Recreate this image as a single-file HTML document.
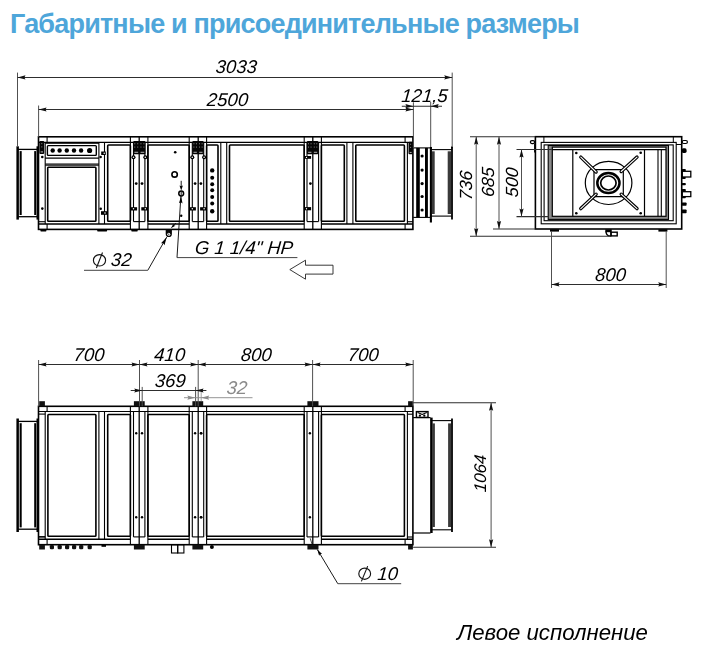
<!DOCTYPE html>
<html><head><meta charset="utf-8"><style>
html,body{margin:0;padding:0;background:#fff;}
body{width:707px;height:668px;overflow:hidden;position:relative;font-family:"Liberation Sans",sans-serif;}
h1{position:absolute;left:10px;top:9px;margin:0;font:bold 27px "Liberation Sans",sans-serif;color:#4ea6da;letter-spacing:-0.8px;white-space:nowrap;}
svg{position:absolute;left:0;top:0;filter:grayscale(1);}
svg text{font-family:"Liberation Sans",sans-serif;}
.cap{position:absolute;left:457px;top:620.3px;font:italic 22.2px "Liberation Sans",sans-serif;color:#000;white-space:nowrap;filter:grayscale(1);}
</style></head><body>
<h1>Габаритные и присоединительные размеры</h1>
<svg width="707" height="668" viewBox="0 0 707 668">
<line x1="38.50" y1="142.30" x2="412.90" y2="142.30" stroke="#000" stroke-width="1.2" stroke-linecap="butt"/>
<line x1="38.50" y1="224.00" x2="130.40" y2="224.00" stroke="#000" stroke-width="1.5" stroke-linecap="butt"/>
<line x1="147.90" y1="224.00" x2="189.20" y2="224.00" stroke="#000" stroke-width="1.5" stroke-linecap="butt"/>
<line x1="206.60" y1="224.00" x2="304.20" y2="224.00" stroke="#000" stroke-width="1.5" stroke-linecap="butt"/>
<line x1="321.40" y1="224.00" x2="412.90" y2="224.00" stroke="#000" stroke-width="1.5" stroke-linecap="butt"/>
<line x1="45.20" y1="142.30" x2="45.20" y2="224.00" stroke="#000" stroke-width="1.1" stroke-linecap="butt"/>
<line x1="98.90" y1="142.30" x2="98.90" y2="224.00" stroke="#000" stroke-width="1.1" stroke-linecap="butt"/>
<line x1="104.50" y1="142.30" x2="104.50" y2="224.00" stroke="#000" stroke-width="1.1" stroke-linecap="butt"/>
<line x1="220.80" y1="142.30" x2="220.80" y2="224.00" stroke="#000" stroke-width="1.1" stroke-linecap="butt"/>
<line x1="226.70" y1="142.30" x2="226.70" y2="224.00" stroke="#000" stroke-width="1.1" stroke-linecap="butt"/>
<line x1="346.90" y1="142.30" x2="346.90" y2="224.00" stroke="#000" stroke-width="1.1" stroke-linecap="butt"/>
<line x1="352.90" y1="142.30" x2="352.90" y2="224.00" stroke="#000" stroke-width="1.1" stroke-linecap="butt"/>
<line x1="407.40" y1="142.30" x2="407.40" y2="224.00" stroke="#000" stroke-width="1.1" stroke-linecap="butt"/>
<line x1="130.40" y1="136.80" x2="130.40" y2="229.40" stroke="#000" stroke-width="1.1" stroke-linecap="butt"/>
<line x1="133.50" y1="142.30" x2="133.50" y2="221.60" stroke="#000" stroke-width="1.1" stroke-linecap="butt"/>
<line x1="139.20" y1="136.80" x2="139.20" y2="229.40" stroke="#000" stroke-width="1.3" stroke-linecap="butt"/>
<line x1="144.90" y1="142.30" x2="144.90" y2="221.60" stroke="#000" stroke-width="1.1" stroke-linecap="butt"/>
<line x1="147.90" y1="136.80" x2="147.90" y2="229.40" stroke="#000" stroke-width="1.1" stroke-linecap="butt"/>
<line x1="133.50" y1="221.60" x2="144.90" y2="221.60" stroke="#000" stroke-width="1.1" stroke-linecap="butt"/>
<line x1="189.20" y1="136.80" x2="189.20" y2="229.40" stroke="#000" stroke-width="1.1" stroke-linecap="butt"/>
<line x1="192.30" y1="142.30" x2="192.30" y2="221.60" stroke="#000" stroke-width="1.1" stroke-linecap="butt"/>
<line x1="198.20" y1="136.80" x2="198.20" y2="229.40" stroke="#000" stroke-width="1.3" stroke-linecap="butt"/>
<line x1="203.70" y1="142.30" x2="203.70" y2="221.60" stroke="#000" stroke-width="1.1" stroke-linecap="butt"/>
<line x1="206.60" y1="136.80" x2="206.60" y2="229.40" stroke="#000" stroke-width="1.1" stroke-linecap="butt"/>
<line x1="192.30" y1="221.60" x2="203.70" y2="221.60" stroke="#000" stroke-width="1.1" stroke-linecap="butt"/>
<line x1="304.20" y1="136.80" x2="304.20" y2="229.40" stroke="#000" stroke-width="1.1" stroke-linecap="butt"/>
<line x1="307.00" y1="142.30" x2="307.00" y2="221.60" stroke="#000" stroke-width="1.1" stroke-linecap="butt"/>
<line x1="312.80" y1="136.80" x2="312.80" y2="229.40" stroke="#000" stroke-width="1.3" stroke-linecap="butt"/>
<line x1="318.60" y1="142.30" x2="318.60" y2="221.60" stroke="#000" stroke-width="1.1" stroke-linecap="butt"/>
<line x1="321.40" y1="136.80" x2="321.40" y2="229.40" stroke="#000" stroke-width="1.1" stroke-linecap="butt"/>
<line x1="307.00" y1="221.60" x2="318.60" y2="221.60" stroke="#000" stroke-width="1.1" stroke-linecap="butt"/>
<line x1="47.10" y1="136.80" x2="47.10" y2="142.30" stroke="#000" stroke-width="1.1" stroke-linecap="butt"/>
<line x1="405.10" y1="136.80" x2="405.10" y2="142.30" stroke="#000" stroke-width="1.1" stroke-linecap="butt"/>
<line x1="405.10" y1="224.00" x2="405.10" y2="229.40" stroke="#000" stroke-width="1.1" stroke-linecap="butt"/>
<line x1="47.10" y1="224.00" x2="47.10" y2="229.40" stroke="#000" stroke-width="1.1" stroke-linecap="butt"/>
<line x1="38.50" y1="221.70" x2="45.20" y2="221.70" stroke="#000" stroke-width="1.1" stroke-linecap="butt"/>
<line x1="407.40" y1="221.70" x2="412.90" y2="221.70" stroke="#000" stroke-width="1.1" stroke-linecap="butt"/>
<rect x="38.50" y="136.80" width="374.40" height="92.60" stroke="#000" stroke-width="1.6" fill="none" rx="0"/>
<line x1="45.20" y1="143.40" x2="98.90" y2="143.40" stroke="#000" stroke-width="0.9" stroke-linecap="butt"/>
<rect x="47.40" y="145.60" width="48.90" height="9.80" stroke="#000" stroke-width="1.4" fill="none" rx="0.8"/>
<circle cx="52.7" cy="150.5" r="2.2" fill="#000"/>
<circle cx="59.6" cy="150.5" r="2.2" fill="#000"/>
<circle cx="66.8" cy="150.5" r="2.2" fill="#000"/>
<circle cx="74.0" cy="150.5" r="2.2" fill="#000"/>
<circle cx="81.1" cy="150.5" r="2.2" fill="#000"/>
<circle cx="89.6" cy="150.5" r="2.6" fill="#000"/>
<line x1="45.20" y1="158.10" x2="98.90" y2="158.10" stroke="#000" stroke-width="1.4" stroke-linecap="butt"/>
<line x1="45.20" y1="164.10" x2="98.90" y2="164.10" stroke="#000" stroke-width="1.3" stroke-linecap="butt"/>
<line x1="45.20" y1="165.60" x2="98.90" y2="165.60" stroke="#000" stroke-width="0.8" stroke-linecap="butt"/>
<rect x="47.70" y="167.30" width="48.20" height="53.90" stroke="#000" stroke-width="1.6" fill="none" rx="0.8"/>
<rect x="107.70" y="145.00" width="22.70" height="76.20" stroke="#000" stroke-width="1.6" fill="none" rx="0.8"/>
<rect x="147.90" y="145.00" width="41.30" height="76.20" stroke="#000" stroke-width="1.6" fill="none" rx="0.8"/>
<rect x="206.60" y="145.00" width="11.40" height="76.20" stroke="#000" stroke-width="1.6" fill="none" rx="0.8"/>
<rect x="229.50" y="145.00" width="74.70" height="76.20" stroke="#000" stroke-width="1.6" fill="none" rx="0.8"/>
<rect x="321.40" y="145.00" width="22.90" height="76.20" stroke="#000" stroke-width="1.6" fill="none" rx="0.8"/>
<rect x="355.80" y="145.00" width="48.60" height="76.20" stroke="#000" stroke-width="1.6" fill="none" rx="0.8"/>
<circle cx="175.2" cy="152.2" r="1.3" fill="#000"/>
<circle cx="174.6" cy="174.4" r="2.7" stroke="#000" stroke-width="1.6" fill="none"/>
<circle cx="181.2" cy="193.5" r="2.4" stroke="#000" stroke-width="1.5" fill="none"/>
<line x1="181.20" y1="191.80" x2="181.20" y2="195.20" stroke="#000" stroke-width="0.9" stroke-linecap="butt"/>
<circle cx="181.2" cy="215.7" r="1.2" fill="#000"/>
<line x1="181.20" y1="180.80" x2="181.20" y2="187.00" stroke="#000" stroke-width="0.9" stroke-linecap="butt"/>
<polygon points="181.20,190.40 179.50,185.60 181.20,186.27 182.90,185.60" fill="#000"/>
<circle cx="212.2" cy="170.4" r="2.2" fill="#000"/>
<circle cx="212.2" cy="177.7" r="2.0" fill="#000"/>
<circle cx="212.2" cy="184.3" r="2.0" fill="#000"/>
<circle cx="212.2" cy="190.2" r="2.0" fill="#000"/>
<circle cx="212.2" cy="196.9" r="2.0" fill="#000"/>
<circle cx="212.2" cy="203.6" r="2.0" fill="#000"/>
<circle cx="212.2" cy="211.3" r="2.2" fill="#000"/>
<rect x="133.20" y="141.00" width="12.30" height="13.30" fill="#050505" rx="1.0"/>
<rect x="134.35" y="143.19" width="0.90" height="1.10" fill="#8c8c8c" rx="0"/>
<rect x="134.35" y="146.52" width="0.90" height="1.10" fill="#8c8c8c" rx="0"/>
<rect x="137.30" y="143.19" width="0.90" height="1.10" fill="#8c8c8c" rx="0"/>
<rect x="137.30" y="146.52" width="0.90" height="1.10" fill="#8c8c8c" rx="0"/>
<rect x="140.50" y="143.19" width="0.90" height="1.10" fill="#8c8c8c" rx="0"/>
<rect x="140.50" y="146.52" width="0.90" height="1.10" fill="#8c8c8c" rx="0"/>
<rect x="143.45" y="143.19" width="0.90" height="1.10" fill="#8c8c8c" rx="0"/>
<rect x="143.45" y="146.52" width="0.90" height="1.10" fill="#8c8c8c" rx="0"/>
<rect x="134.40" y="151.80" width="3.75" height="0.90" fill="#c8c8c8" rx="0"/>
<rect x="140.55" y="151.80" width="3.75" height="0.90" fill="#c8c8c8" rx="0"/>
<rect x="192.30" y="141.00" width="11.40" height="13.30" fill="#050505" rx="1.0"/>
<rect x="193.45" y="143.19" width="0.90" height="1.10" fill="#8c8c8c" rx="0"/>
<rect x="193.45" y="146.52" width="0.90" height="1.10" fill="#8c8c8c" rx="0"/>
<rect x="195.95" y="143.19" width="0.90" height="1.10" fill="#8c8c8c" rx="0"/>
<rect x="195.95" y="146.52" width="0.90" height="1.10" fill="#8c8c8c" rx="0"/>
<rect x="199.15" y="143.19" width="0.90" height="1.10" fill="#8c8c8c" rx="0"/>
<rect x="199.15" y="146.52" width="0.90" height="1.10" fill="#8c8c8c" rx="0"/>
<rect x="201.65" y="143.19" width="0.90" height="1.10" fill="#8c8c8c" rx="0"/>
<rect x="201.65" y="146.52" width="0.90" height="1.10" fill="#8c8c8c" rx="0"/>
<rect x="193.50" y="151.80" width="3.30" height="0.90" fill="#c8c8c8" rx="0"/>
<rect x="199.20" y="151.80" width="3.30" height="0.90" fill="#c8c8c8" rx="0"/>
<rect x="306.90" y="141.00" width="11.50" height="13.30" fill="#050505" rx="1.0"/>
<rect x="308.05" y="143.19" width="0.90" height="1.10" fill="#8c8c8c" rx="0"/>
<rect x="308.05" y="146.52" width="0.90" height="1.10" fill="#8c8c8c" rx="0"/>
<rect x="310.60" y="143.19" width="0.90" height="1.10" fill="#8c8c8c" rx="0"/>
<rect x="310.60" y="146.52" width="0.90" height="1.10" fill="#8c8c8c" rx="0"/>
<rect x="313.80" y="143.19" width="0.90" height="1.10" fill="#8c8c8c" rx="0"/>
<rect x="313.80" y="146.52" width="0.90" height="1.10" fill="#8c8c8c" rx="0"/>
<rect x="316.35" y="143.19" width="0.90" height="1.10" fill="#8c8c8c" rx="0"/>
<rect x="316.35" y="146.52" width="0.90" height="1.10" fill="#8c8c8c" rx="0"/>
<rect x="308.10" y="151.80" width="3.35" height="0.90" fill="#c8c8c8" rx="0"/>
<rect x="313.85" y="151.80" width="3.35" height="0.90" fill="#c8c8c8" rx="0"/>
<rect x="39.40" y="141.00" width="4.80" height="12.90" fill="#050505" rx="1.0"/>
<rect x="41.35" y="143.09" width="0.90" height="1.10" fill="#8c8c8c" rx="0"/>
<rect x="41.35" y="146.33" width="0.90" height="1.10" fill="#8c8c8c" rx="0"/>
<rect x="40.60" y="151.47" width="2.40" height="0.90" fill="#c8c8c8" rx="0"/>
<rect x="408.50" y="141.70" width="4.30" height="12.60" fill="#050505" rx="1.0"/>
<rect x="410.20" y="143.72" width="0.90" height="1.10" fill="#8c8c8c" rx="0"/>
<rect x="410.20" y="146.89" width="0.90" height="1.10" fill="#8c8c8c" rx="0"/>
<rect x="409.70" y="151.92" width="1.90" height="0.90" fill="#c8c8c8" rx="0"/>
<circle cx="133.5" cy="157.2" r="2.0" fill="#000"/>
<circle cx="133.5" cy="157.2" r="0.8" fill="#fff"/>
<circle cx="145.3" cy="157.2" r="2.0" fill="#000"/>
<circle cx="145.3" cy="157.2" r="0.8" fill="#fff"/>
<circle cx="192.3" cy="157.2" r="2.0" fill="#000"/>
<circle cx="192.3" cy="157.2" r="0.8" fill="#fff"/>
<circle cx="204.1" cy="157.2" r="2.0" fill="#000"/>
<circle cx="204.1" cy="157.2" r="0.8" fill="#fff"/>
<rect x="304.90" y="156.00" width="6.20" height="2.80" fill="#000" rx="0"/>
<circle cx="306.5" cy="157.4" r="0.7" fill="#fff"/>
<rect x="304.90" y="207.10" width="6.20" height="3.20" fill="#000" rx="0"/>
<circle cx="306.5" cy="208.7" r="0.7" fill="#fff"/>
<circle cx="42.3" cy="157.0" r="1.3" fill="#000"/>
<circle cx="100.6" cy="157.0" r="1.3" fill="#000"/>
<circle cx="42.3" cy="208.6" r="1.3" fill="#000"/>
<circle cx="100.7" cy="208.8" r="1.3" fill="#000"/>
<rect x="101.20" y="151.50" width="4.60" height="3.50" fill="#000" rx="0"/>
<circle cx="104.2" cy="153.25" r="0.75" fill="#fff"/>
<rect x="101.00" y="211.20" width="6.60" height="3.60" fill="#000" rx="0"/>
<circle cx="105.0" cy="213.0" r="0.75" fill="#fff"/>
<rect x="131.00" y="207.20" width="6.10" height="3.30" fill="#000" rx="0"/>
<circle cx="133.5" cy="208.85" r="0.75" fill="#fff"/>
<rect x="141.30" y="207.20" width="6.40" height="3.30" fill="#000" rx="0"/>
<circle cx="145.3" cy="208.85" r="0.75" fill="#fff"/>
<rect x="189.80" y="207.20" width="6.10" height="3.30" fill="#000" rx="0"/>
<circle cx="192.3" cy="208.85" r="0.75" fill="#fff"/>
<rect x="200.10" y="207.20" width="6.30" height="3.30" fill="#000" rx="0"/>
<circle cx="204.1" cy="208.85" r="0.75" fill="#fff"/>
<circle cx="136.2" cy="183.6" r="1.4" fill="#000"/>
<circle cx="142.0" cy="183.6" r="1.4" fill="#000"/>
<circle cx="195.1" cy="183.6" r="1.4" fill="#000"/>
<circle cx="200.9" cy="183.6" r="1.4" fill="#000"/>
<circle cx="310.4" cy="183.6" r="1.4" fill="#000"/>
<rect x="40.40" y="229.60" width="6.00" height="1.80" fill="#000" rx="0.6"/>
<rect x="97.20" y="229.60" width="9.90" height="1.80" fill="#000" rx="0.6"/>
<rect x="131.30" y="229.60" width="6.40" height="1.80" fill="#000" rx="0.6"/>
<line x1="17.65" y1="146.30" x2="17.65" y2="219.60" stroke="#000" stroke-width="2.5" stroke-linecap="butt"/>
<line x1="17.20" y1="149.40" x2="37.80" y2="149.40" stroke="#000" stroke-width="1.3" stroke-linecap="butt"/>
<line x1="17.20" y1="216.70" x2="37.80" y2="216.70" stroke="#000" stroke-width="1.3" stroke-linecap="butt"/>
<rect x="19.60" y="151.10" width="2.10" height="63.90" fill="#000" rx="0"/>
<rect x="34.20" y="151.10" width="1.90" height="63.90" fill="#000" rx="0"/>
<line x1="37.30" y1="146.30" x2="37.30" y2="219.60" stroke="#000" stroke-width="1.6" stroke-linecap="butt"/>
<line x1="413.20" y1="147.90" x2="430.10" y2="147.90" stroke="#000" stroke-width="1.1" stroke-linecap="butt"/>
<line x1="413.20" y1="217.40" x2="430.10" y2="217.40" stroke="#000" stroke-width="1.1" stroke-linecap="butt"/>
<rect x="416.20" y="147.90" width="3.60" height="69.50" fill="#000" rx="0"/>
<rect x="425.00" y="147.90" width="2.90" height="69.50" fill="#000" rx="0"/>
<circle cx="422.1" cy="156.0" r="1.6" fill="#000"/>
<circle cx="422.1" cy="170.1" r="1.6" fill="#000"/>
<circle cx="422.1" cy="183.6" r="1.6" fill="#000"/>
<circle cx="422.1" cy="196.5" r="1.6" fill="#000"/>
<circle cx="422.1" cy="210.0" r="1.6" fill="#000"/>
<line x1="430.60" y1="149.60" x2="451.80" y2="149.60" stroke="#000" stroke-width="1.1" stroke-linecap="butt"/>
<line x1="430.60" y1="216.10" x2="451.80" y2="216.10" stroke="#000" stroke-width="1.1" stroke-linecap="butt"/>
<rect x="432.00" y="151.30" width="2.70" height="62.70" fill="#3a3a3a" rx="0"/>
<rect x="447.70" y="151.30" width="3.30" height="62.70" fill="#3a3a3a" rx="0"/>
<line x1="452.00" y1="146.50" x2="452.00" y2="219.50" stroke="#000" stroke-width="1.8" stroke-linecap="butt"/>
<line x1="430.90" y1="147.00" x2="430.90" y2="222.50" stroke="#000" stroke-width="2.1" stroke-linecap="butt"/>
<circle cx="430.8" cy="147.6" r="0.9" fill="#000"/>
<circle cx="451.9" cy="147.6" r="0.9" fill="#000"/>
<path d="M165.7,229.2 L171.9,229.2 L171.9,234.0 A3.1,3.1 0 0 1 165.7,234.0 Z" fill="#050505"/>
<circle cx="168.8" cy="234.2" r="1.5" fill="#fff"/>
<circle cx="168.8" cy="234.2" r="0.6" fill="#000"/>
<line x1="17.50" y1="72.60" x2="17.50" y2="146.70" stroke="#505050" stroke-width="1.0" stroke-linecap="butt"/>
<line x1="452.20" y1="72.60" x2="452.20" y2="146.80" stroke="#505050" stroke-width="1.0" stroke-linecap="butt"/>
<line x1="17.50" y1="77.40" x2="452.20" y2="77.40" stroke="#2e2e2e" stroke-width="1.05" stroke-linecap="butt"/>
<polygon points="17.50,77.40 25.50,75.30 24.38,77.40 25.50,79.50" fill="#111"/>
<polygon points="452.20,77.40 444.20,79.50 445.32,77.40 444.20,75.30" fill="#111"/>
<text x="0" y="0" transform="translate(235.9,73.3) skewX(-5)" font-size="18.5" font-style="italic" text-anchor="middle" fill="#000" >3033</text>
<line x1="38.60" y1="105.50" x2="38.60" y2="136.80" stroke="#505050" stroke-width="1.0" stroke-linecap="butt"/>
<line x1="413.40" y1="102.30" x2="413.40" y2="147.90" stroke="#505050" stroke-width="1.0" stroke-linecap="butt"/>
<line x1="38.60" y1="109.50" x2="413.40" y2="109.50" stroke="#2e2e2e" stroke-width="1.05" stroke-linecap="butt"/>
<polygon points="38.60,109.50 46.60,107.40 45.48,109.50 46.60,111.60" fill="#111"/>
<polygon points="413.40,109.50 405.40,111.60 406.52,109.50 405.40,107.40" fill="#111"/>
<text x="0" y="0" transform="translate(227.1,105.7) skewX(-5)" font-size="18.5" font-style="italic" text-anchor="middle" fill="#000" >2500</text>
<line x1="430.70" y1="102.00" x2="430.70" y2="147.00" stroke="#505050" stroke-width="1.0" stroke-linecap="butt"/>
<line x1="401.80" y1="106.20" x2="442.00" y2="106.20" stroke="#2e2e2e" stroke-width="1.05" stroke-linecap="butt"/>
<polygon points="413.40,106.20 405.40,108.30 406.52,106.20 405.40,104.10" fill="#111"/>
<polygon points="430.70,106.20 438.70,104.10 437.58,106.20 438.70,108.30" fill="#111"/>
<text x="0" y="0" transform="translate(424.2,101.7) skewX(-5)" font-size="18.5" font-style="italic" text-anchor="middle" fill="#000" >121,5</text>
<line x1="166.70" y1="237.10" x2="147.80" y2="270.30" stroke="#000" stroke-width="0.9" stroke-linecap="butt"/>
<line x1="147.80" y1="270.30" x2="84.00" y2="270.30" stroke="#2e2e2e" stroke-width="0.9" stroke-linecap="butt"/>
<polygon points="166.70,237.30 164.48,245.24 163.30,243.28 161.00,243.26" fill="#000"/>
<ellipse cx="99.5" cy="260.3" rx="6.1" ry="5.7" stroke="#111" stroke-width="1.15" fill="none"/>
<line x1="96.40" y1="268.00" x2="102.50" y2="252.50" stroke="#111" stroke-width="1.1" stroke-linecap="butt"/>
<text x="0" y="0" transform="translate(110.60000000000001,266.2) skewX(-5)" font-size="18.5" font-style="italic" text-anchor="start" fill="#000" >32</text>
<line x1="180.90" y1="196.00" x2="177.00" y2="257.60" stroke="#000" stroke-width="0.9" stroke-linecap="butt"/>
<line x1="177.00" y1="257.60" x2="297.40" y2="257.60" stroke="#2e2e2e" stroke-width="0.9" stroke-linecap="butt"/>
<polygon points="181.15,196.30 182.53,203.40 180.79,202.31 178.93,203.18" fill="#000"/>
<text x="0" y="0" transform="translate(194.6,253.9) skewX(-5)" font-size="18.5" font-style="italic" text-anchor="start" fill="#000" >G 1 1/4" НР</text>
<line x1="171.40" y1="227.50" x2="176.00" y2="223.00" stroke="#000" stroke-width="0.8" stroke-linecap="butt"/>
<polygon points="171.20,227.90 173.32,223.66 173.94,225.16 175.44,225.78" fill="#000"/>
<polygon points="289.8,269.6 305.5,260.2 305.5,265.2 333,265.2 333,274.1 305.5,274.1 305.5,279.2" fill="none" stroke="#222" stroke-width="0.9"/>
<rect x="535.40" y="136.70" width="146.30" height="92.30" stroke="#000" stroke-width="1.6" fill="none" rx="0"/>
<rect x="541.20" y="142.40" width="135.00" height="81.40" stroke="#000" stroke-width="1.1" fill="none" rx="0"/>
<rect x="544.10" y="144.90" width="129.10" height="75.80" stroke="#000" stroke-width="1.1" fill="none" rx="0"/>
<rect x="548.20" y="145.50" width="120.30" height="73.90" fill="#8a8a8a" rx="0"/>
<rect x="552.30" y="147.10" width="113.70" height="69.20" fill="#fff" rx="0"/>
<rect x="548.20" y="145.50" width="120.30" height="73.90" stroke="#000" stroke-width="1.1" fill="none" rx="0"/>
<rect x="552.30" y="147.10" width="113.70" height="69.20" stroke="#000" stroke-width="1.2" fill="none" rx="0"/>
<line x1="552.30" y1="149.60" x2="666.00" y2="149.60" stroke="#000" stroke-width="1.3" stroke-linecap="butt"/>
<line x1="543.90" y1="136.70" x2="543.90" y2="142.40" stroke="#000" stroke-width="1.0" stroke-linecap="butt"/>
<line x1="673.30" y1="136.70" x2="673.30" y2="142.40" stroke="#000" stroke-width="1.0" stroke-linecap="butt"/>
<line x1="572.80" y1="149.60" x2="572.80" y2="216.30" stroke="#000" stroke-width="1.2" stroke-linecap="butt"/>
<line x1="644.50" y1="149.60" x2="644.50" y2="216.30" stroke="#000" stroke-width="1.2" stroke-linecap="butt"/>
<line x1="658.00" y1="149.60" x2="658.00" y2="216.30" stroke="#000" stroke-width="1.1" stroke-linecap="butt"/>
<line x1="661.30" y1="149.60" x2="661.30" y2="216.30" stroke="#000" stroke-width="1.1" stroke-linecap="butt"/>
<circle cx="576.3" cy="153.0" r="1.3" fill="#000"/>
<circle cx="576.3" cy="213.2" r="1.3" fill="#000"/>
<circle cx="640.7" cy="152.7" r="1.3" fill="#000"/>
<circle cx="640.7" cy="213.3" r="1.3" fill="#000"/>
<ellipse cx="608.6" cy="182.9" rx="23.3" ry="21.6" stroke="#000" stroke-width="1.2" fill="none"/>
<path d="M594,169.6 L623.3,169.6 L623.3,196.6 L594,196.6 Z" fill="#fff" stroke="#000" stroke-width="1.2"/>
<ellipse cx="608.4" cy="183.1" rx="11.1" ry="10.0" stroke="#000" stroke-width="2.5" fill="#fff"/>
<ellipse cx="608.4" cy="183.0" rx="7.7" ry="7.0" stroke="#000" stroke-width="1.7" fill="none"/>
<line x1="580.80" y1="157.10" x2="596.10" y2="172.00" stroke="#000" stroke-width="3.4" stroke-linecap="round"/>
<line x1="580.80" y1="157.10" x2="596.10" y2="172.00" stroke="#fff" stroke-width="1.1" stroke-linecap="round"/>
<line x1="580.80" y1="208.60" x2="596.10" y2="194.20" stroke="#000" stroke-width="3.4" stroke-linecap="round"/>
<line x1="580.80" y1="208.60" x2="596.10" y2="194.20" stroke="#fff" stroke-width="1.1" stroke-linecap="round"/>
<line x1="637.00" y1="157.10" x2="621.20" y2="171.50" stroke="#000" stroke-width="3.4" stroke-linecap="round"/>
<line x1="637.00" y1="157.10" x2="621.20" y2="171.50" stroke="#fff" stroke-width="1.1" stroke-linecap="round"/>
<line x1="637.00" y1="208.60" x2="621.20" y2="194.20" stroke="#000" stroke-width="3.4" stroke-linecap="round"/>
<line x1="637.00" y1="208.60" x2="621.20" y2="194.20" stroke="#fff" stroke-width="1.1" stroke-linecap="round"/>
<rect x="530.40" y="140.60" width="4.20" height="3.00" stroke="#000" stroke-width="1.3" fill="#fff" rx="1.5"/>
<line x1="534.60" y1="143.50" x2="534.60" y2="152.50" stroke="#000" stroke-width="1.0" stroke-linecap="butt"/>
<rect x="682.20" y="140.50" width="5.20" height="3.00" stroke="#000" stroke-width="1.2" fill="#fff" rx="1.5"/>
<rect x="681.70" y="148.30" width="4.90" height="4.60" fill="#000" rx="1.6"/>
<rect x="681.70" y="168.90" width="4.10" height="2.40" fill="#000" rx="0.8"/>
<rect x="681.70" y="176.90" width="4.10" height="2.00" fill="#000" rx="0.8"/>
<rect x="681.70" y="182.90" width="4.10" height="2.40" fill="#000" rx="0.8"/>
<rect x="681.70" y="189.00" width="4.10" height="2.70" fill="#000" rx="0.8"/>
<rect x="681.70" y="196.50" width="4.10" height="1.70" fill="#000" rx="0.8"/>
<rect x="681.70" y="202.50" width="4.90" height="3.30" fill="#000" rx="0.8"/>
<rect x="681.70" y="209.50" width="4.90" height="3.70" fill="#000" rx="0.8"/>
<rect x="682.30" y="171.30" width="8.50" height="5.70" stroke="#000" stroke-width="1.3" fill="#fff" rx="0"/>
<rect x="682.30" y="191.70" width="8.50" height="4.90" stroke="#000" stroke-width="1.3" fill="#fff" rx="0"/>
<line x1="681.70" y1="144.50" x2="676.00" y2="144.50" stroke="#000" stroke-width="1.0" stroke-linecap="butt"/>
<rect x="605.30" y="229.30" width="5.90" height="2.90" fill="#000" rx="0"/>
<path d="M605.9,231.5 Q606.3,235.2 608.6,235.9 L611.2,235.9" fill="none" stroke="#000" stroke-width="1.4"/>
<line x1="611.00" y1="229.30" x2="611.00" y2="236.30" stroke="#000" stroke-width="1.4" stroke-linecap="butt"/>
<rect x="611.00" y="232.20" width="6.20" height="3.70" stroke="#000" stroke-width="1.4" fill="none" rx="0"/>
<rect x="550.00" y="229.20" width="9.00" height="2.40" fill="#000" rx="0"/>
<rect x="658.40" y="229.20" width="9.00" height="2.40" fill="#000" rx="0"/>
<line x1="470.00" y1="136.70" x2="535.40" y2="136.70" stroke="#2e2e2e" stroke-width="1.05" stroke-linecap="butt"/>
<line x1="470.00" y1="236.20" x2="611.00" y2="236.20" stroke="#2e2e2e" stroke-width="1.05" stroke-linecap="butt"/>
<line x1="493.00" y1="229.00" x2="535.40" y2="229.00" stroke="#2e2e2e" stroke-width="1.05" stroke-linecap="butt"/>
<line x1="516.50" y1="149.50" x2="551.80" y2="149.50" stroke="#2e2e2e" stroke-width="1.05" stroke-linecap="butt"/>
<line x1="516.50" y1="216.60" x2="549.00" y2="216.60" stroke="#2e2e2e" stroke-width="1.05" stroke-linecap="butt"/>
<line x1="476.20" y1="136.70" x2="476.20" y2="236.20" stroke="#505050" stroke-width="1.0" stroke-linecap="butt"/>
<polygon points="476.20,136.70 478.30,144.70 476.20,143.58 474.10,144.70" fill="#111"/>
<polygon points="476.20,236.20 474.10,228.20 476.20,229.32 478.30,228.20" fill="#111"/>
<text x="0" y="0" font-size="17.6" font-style="italic" text-anchor="middle" fill="#000" transform="translate(472.1,185.89999999999998) rotate(-90) skewX(-5)">736</text>
<line x1="499.00" y1="136.70" x2="499.00" y2="229.00" stroke="#505050" stroke-width="1.0" stroke-linecap="butt"/>
<polygon points="499.00,136.70 501.10,144.70 499.00,143.58 496.90,144.70" fill="#111"/>
<polygon points="499.00,229.00 496.90,221.00 499.00,222.12 501.10,221.00" fill="#111"/>
<text x="0" y="0" font-size="17.6" font-style="italic" text-anchor="middle" fill="#000" transform="translate(494.4,182.5) rotate(-90) skewX(-5)">685</text>
<line x1="521.50" y1="149.50" x2="521.50" y2="216.60" stroke="#505050" stroke-width="1.0" stroke-linecap="butt"/>
<polygon points="521.50,149.50 523.60,157.50 521.50,156.38 519.40,157.50" fill="#111"/>
<polygon points="521.50,216.60 519.40,208.60 521.50,209.72 523.60,208.60" fill="#111"/>
<text x="0" y="0" font-size="17.6" font-style="italic" text-anchor="middle" fill="#000" transform="translate(517.6,182.7) rotate(-90) skewX(-5)">500</text>
<line x1="551.50" y1="231.00" x2="551.50" y2="288.00" stroke="#505050" stroke-width="1.0" stroke-linecap="butt"/>
<line x1="666.20" y1="231.00" x2="666.20" y2="288.00" stroke="#505050" stroke-width="1.0" stroke-linecap="butt"/>
<line x1="551.50" y1="284.40" x2="666.20" y2="284.40" stroke="#2e2e2e" stroke-width="1.05" stroke-linecap="butt"/>
<polygon points="551.50,284.40 559.50,282.30 558.38,284.40 559.50,286.50" fill="#111"/>
<polygon points="666.20,284.40 658.20,286.50 659.32,284.40 658.20,282.30" fill="#111"/>
<text x="0" y="0" transform="translate(610.1999999999999,281.2) skewX(-5)" font-size="18.5" font-style="italic" text-anchor="middle" fill="#000" >800</text>
<line x1="38.50" y1="411.50" x2="412.90" y2="411.50" stroke="#000" stroke-width="1.2" stroke-linecap="butt"/>
<line x1="38.50" y1="539.30" x2="130.40" y2="539.30" stroke="#000" stroke-width="1.5" stroke-linecap="butt"/>
<line x1="147.90" y1="539.30" x2="189.20" y2="539.30" stroke="#000" stroke-width="1.5" stroke-linecap="butt"/>
<line x1="206.60" y1="539.30" x2="304.20" y2="539.30" stroke="#000" stroke-width="1.5" stroke-linecap="butt"/>
<line x1="321.40" y1="539.30" x2="412.90" y2="539.30" stroke="#000" stroke-width="1.5" stroke-linecap="butt"/>
<line x1="45.20" y1="411.50" x2="45.20" y2="539.30" stroke="#000" stroke-width="1.1" stroke-linecap="butt"/>
<line x1="98.90" y1="411.50" x2="98.90" y2="539.30" stroke="#000" stroke-width="1.1" stroke-linecap="butt"/>
<line x1="104.50" y1="411.50" x2="104.50" y2="539.30" stroke="#000" stroke-width="1.1" stroke-linecap="butt"/>
<line x1="407.40" y1="411.50" x2="407.40" y2="539.30" stroke="#000" stroke-width="1.1" stroke-linecap="butt"/>
<line x1="130.40" y1="406.30" x2="130.40" y2="544.70" stroke="#000" stroke-width="1.1" stroke-linecap="butt"/>
<line x1="133.50" y1="411.50" x2="133.50" y2="536.90" stroke="#000" stroke-width="1.1" stroke-linecap="butt"/>
<line x1="139.20" y1="406.30" x2="139.20" y2="544.70" stroke="#000" stroke-width="1.3" stroke-linecap="butt"/>
<line x1="144.90" y1="411.50" x2="144.90" y2="536.90" stroke="#000" stroke-width="1.1" stroke-linecap="butt"/>
<line x1="147.90" y1="406.30" x2="147.90" y2="544.70" stroke="#000" stroke-width="1.1" stroke-linecap="butt"/>
<line x1="133.50" y1="536.90" x2="144.90" y2="536.90" stroke="#000" stroke-width="1.1" stroke-linecap="butt"/>
<line x1="189.20" y1="406.30" x2="189.20" y2="544.70" stroke="#000" stroke-width="1.1" stroke-linecap="butt"/>
<line x1="192.30" y1="411.50" x2="192.30" y2="536.90" stroke="#000" stroke-width="1.1" stroke-linecap="butt"/>
<line x1="198.20" y1="406.30" x2="198.20" y2="544.70" stroke="#000" stroke-width="1.3" stroke-linecap="butt"/>
<line x1="203.70" y1="411.50" x2="203.70" y2="536.90" stroke="#000" stroke-width="1.1" stroke-linecap="butt"/>
<line x1="206.60" y1="406.30" x2="206.60" y2="544.70" stroke="#000" stroke-width="1.1" stroke-linecap="butt"/>
<line x1="192.30" y1="536.90" x2="203.70" y2="536.90" stroke="#000" stroke-width="1.1" stroke-linecap="butt"/>
<line x1="304.20" y1="406.30" x2="304.20" y2="544.70" stroke="#000" stroke-width="1.1" stroke-linecap="butt"/>
<line x1="307.00" y1="411.50" x2="307.00" y2="536.90" stroke="#000" stroke-width="1.1" stroke-linecap="butt"/>
<line x1="312.80" y1="406.30" x2="312.80" y2="544.70" stroke="#000" stroke-width="1.3" stroke-linecap="butt"/>
<line x1="318.60" y1="411.50" x2="318.60" y2="536.90" stroke="#000" stroke-width="1.1" stroke-linecap="butt"/>
<line x1="321.40" y1="406.30" x2="321.40" y2="544.70" stroke="#000" stroke-width="1.1" stroke-linecap="butt"/>
<line x1="307.00" y1="536.90" x2="318.60" y2="536.90" stroke="#000" stroke-width="1.1" stroke-linecap="butt"/>
<line x1="47.10" y1="406.30" x2="47.10" y2="411.50" stroke="#000" stroke-width="1.1" stroke-linecap="butt"/>
<line x1="405.10" y1="406.30" x2="405.10" y2="411.50" stroke="#000" stroke-width="1.1" stroke-linecap="butt"/>
<line x1="405.10" y1="539.30" x2="405.10" y2="544.70" stroke="#000" stroke-width="1.1" stroke-linecap="butt"/>
<line x1="47.10" y1="539.30" x2="47.10" y2="544.70" stroke="#000" stroke-width="1.1" stroke-linecap="butt"/>
<line x1="38.50" y1="537.00" x2="45.20" y2="537.00" stroke="#000" stroke-width="1.1" stroke-linecap="butt"/>
<line x1="407.40" y1="537.00" x2="412.90" y2="537.00" stroke="#000" stroke-width="1.1" stroke-linecap="butt"/>
<rect x="38.50" y="406.30" width="374.40" height="138.40" stroke="#000" stroke-width="1.6" fill="none" rx="0"/>
<line x1="38.50" y1="414.10" x2="45.20" y2="414.10" stroke="#000" stroke-width="1.1" stroke-linecap="butt"/>
<line x1="38.50" y1="536.70" x2="45.20" y2="536.70" stroke="#000" stroke-width="1.1" stroke-linecap="butt"/>
<rect x="47.90" y="414.50" width="48.00" height="121.80" stroke="#000" stroke-width="1.6" fill="none" rx="0.8"/>
<rect x="107.70" y="414.50" width="22.70" height="121.80" stroke="#000" stroke-width="1.6" fill="none" rx="0.8"/>
<rect x="147.90" y="414.50" width="41.30" height="121.80" stroke="#000" stroke-width="1.6" fill="none" rx="0.8"/>
<rect x="206.60" y="414.50" width="97.60" height="121.80" stroke="#000" stroke-width="1.6" fill="none" rx="0.8"/>
<rect x="321.40" y="414.50" width="83.00" height="121.80" stroke="#000" stroke-width="1.6" fill="none" rx="0.8"/>
<circle cx="136.2" cy="433.3" r="1.2" fill="#000"/>
<circle cx="136.2" cy="517.2" r="1.2" fill="#000"/>
<circle cx="142.0" cy="433.3" r="1.2" fill="#000"/>
<circle cx="142.0" cy="517.2" r="1.2" fill="#000"/>
<circle cx="195.1" cy="433.3" r="1.2" fill="#000"/>
<circle cx="195.1" cy="517.2" r="1.2" fill="#000"/>
<circle cx="200.9" cy="433.3" r="1.2" fill="#000"/>
<circle cx="200.9" cy="517.2" r="1.2" fill="#000"/>
<circle cx="201.3" cy="433.3" r="1.2" fill="#000"/>
<circle cx="201.3" cy="517.2" r="1.2" fill="#000"/>
<circle cx="309.9" cy="433.3" r="1.2" fill="#000"/>
<circle cx="309.9" cy="517.2" r="1.2" fill="#000"/>
<rect x="39.20" y="401.20" width="5.70" height="5.10" fill="#111" rx="0"/>
<rect x="39.20" y="544.70" width="5.70" height="4.80" fill="#111" rx="0"/>
<rect x="133.90" y="401.20" width="10.80" height="5.10" fill="#111" rx="0"/>
<rect x="133.90" y="544.70" width="10.80" height="4.80" fill="#111" rx="0"/>
<rect x="192.40" y="401.20" width="10.80" height="5.10" fill="#111" rx="0"/>
<rect x="192.40" y="544.70" width="10.80" height="4.80" fill="#111" rx="0"/>
<rect x="307.40" y="401.20" width="11.10" height="5.10" fill="#111" rx="0"/>
<rect x="307.40" y="544.70" width="11.10" height="4.80" fill="#111" rx="0"/>
<rect x="408.10" y="401.20" width="4.80" height="5.10" fill="#111" rx="0"/>
<rect x="408.10" y="544.70" width="4.80" height="4.80" fill="#111" rx="0"/>
<rect x="49.80" y="544.90" width="4.20" height="4.40" fill="#111" rx="1.3"/>
<rect x="57.60" y="544.90" width="4.20" height="4.40" fill="#111" rx="1.3"/>
<rect x="65.00" y="544.90" width="4.20" height="4.40" fill="#111" rx="1.3"/>
<rect x="72.00" y="544.90" width="4.20" height="4.40" fill="#111" rx="1.3"/>
<rect x="79.10" y="544.90" width="4.20" height="4.40" fill="#111" rx="1.3"/>
<rect x="87.60" y="544.90" width="4.20" height="4.40" fill="#111" rx="1.3"/>
<rect x="101.50" y="544.70" width="4.50" height="2.10" fill="#000" rx="0"/>
<circle cx="211.9" cy="546.9" r="2.0" fill="#000"/>
<rect x="171.50" y="544.70" width="6.20" height="8.30" stroke="#000" stroke-width="1.1" fill="none" rx="0"/>
<rect x="177.70" y="544.70" width="6.20" height="8.30" stroke="#000" stroke-width="1.1" fill="none" rx="0"/>
<line x1="17.65" y1="418.50" x2="17.65" y2="532.00" stroke="#000" stroke-width="2.5" stroke-linecap="butt"/>
<line x1="17.20" y1="421.40" x2="37.80" y2="421.40" stroke="#000" stroke-width="1.3" stroke-linecap="butt"/>
<line x1="17.20" y1="529.20" x2="37.80" y2="529.20" stroke="#000" stroke-width="1.3" stroke-linecap="butt"/>
<rect x="19.60" y="423.20" width="2.10" height="104.20" fill="#000" rx="0"/>
<rect x="34.20" y="423.20" width="1.90" height="104.20" fill="#000" rx="0"/>
<line x1="37.30" y1="418.50" x2="37.30" y2="532.00" stroke="#000" stroke-width="1.6" stroke-linecap="butt"/>
<line x1="413.10" y1="417.60" x2="430.50" y2="417.60" stroke="#000" stroke-width="1.2" stroke-linecap="butt"/>
<line x1="413.10" y1="533.00" x2="430.50" y2="533.00" stroke="#000" stroke-width="1.2" stroke-linecap="butt"/>
<rect x="416.40" y="411.60" width="11.60" height="5.80" stroke="#000" stroke-width="1.4" fill="none" rx="0"/>
<path d="M417.6,412.6 Q420.2,413.6 422.2,414.4 Q424.3,413.6 426.8,412.6" fill="none" stroke="#000" stroke-width="1.1"/>
<circle cx="419.9" cy="415.7" r="1.15" fill="#000"/>
<circle cx="424.3" cy="415.7" r="1.15" fill="#000"/>
<line x1="407.40" y1="414.20" x2="412.90" y2="414.20" stroke="#000" stroke-width="1.1" stroke-linecap="butt"/>
<line x1="430.60" y1="420.60" x2="451.80" y2="420.60" stroke="#000" stroke-width="1.1" stroke-linecap="butt"/>
<line x1="430.60" y1="529.80" x2="451.80" y2="529.80" stroke="#000" stroke-width="1.1" stroke-linecap="butt"/>
<rect x="432.60" y="423.40" width="2.30" height="103.60" fill="#3a3a3a" rx="0"/>
<rect x="448.10" y="423.40" width="3.00" height="103.60" fill="#3a3a3a" rx="0"/>
<line x1="452.00" y1="418.50" x2="452.00" y2="532.00" stroke="#000" stroke-width="1.8" stroke-linecap="butt"/>
<line x1="431.40" y1="417.60" x2="431.40" y2="533.00" stroke="#000" stroke-width="2.5" stroke-linecap="butt"/>
<line x1="38.60" y1="360.00" x2="38.60" y2="406.30" stroke="#505050" stroke-width="1.0" stroke-linecap="butt"/>
<line x1="139.50" y1="360.00" x2="139.50" y2="406.30" stroke="#505050" stroke-width="1.0" stroke-linecap="butt"/>
<line x1="198.20" y1="360.00" x2="198.20" y2="406.30" stroke="#505050" stroke-width="1.0" stroke-linecap="butt"/>
<line x1="312.60" y1="360.00" x2="312.60" y2="406.30" stroke="#505050" stroke-width="1.0" stroke-linecap="butt"/>
<line x1="413.20" y1="360.00" x2="413.20" y2="406.30" stroke="#505050" stroke-width="1.0" stroke-linecap="butt"/>
<line x1="142.20" y1="386.90" x2="142.20" y2="406.30" stroke="#505050" stroke-width="1.0" stroke-linecap="butt"/>
<line x1="195.60" y1="386.90" x2="195.60" y2="406.30" stroke="#505050" stroke-width="1.0" stroke-linecap="butt"/>
<line x1="38.60" y1="364.50" x2="139.50" y2="364.50" stroke="#2e2e2e" stroke-width="1.05" stroke-linecap="butt"/>
<polygon points="38.60,364.50 46.60,362.40 45.48,364.50 46.60,366.60" fill="#111"/>
<polygon points="139.50,364.50 131.50,366.60 132.62,364.50 131.50,362.40" fill="#111"/>
<text x="0" y="0" transform="translate(88.65,361.0) skewX(-5)" font-size="18.5" font-style="italic" text-anchor="middle" fill="#000" >700</text>
<line x1="139.50" y1="364.50" x2="198.20" y2="364.50" stroke="#2e2e2e" stroke-width="1.05" stroke-linecap="butt"/>
<polygon points="139.50,364.50 147.50,362.40 146.38,364.50 147.50,366.60" fill="#111"/>
<polygon points="198.20,364.50 190.20,366.60 191.32,364.50 190.20,362.40" fill="#111"/>
<text x="0" y="0" transform="translate(169.25,361.0) skewX(-5)" font-size="18.5" font-style="italic" text-anchor="middle" fill="#000" >410</text>
<line x1="198.20" y1="364.50" x2="312.60" y2="364.50" stroke="#2e2e2e" stroke-width="1.05" stroke-linecap="butt"/>
<polygon points="198.20,364.50 206.20,362.40 205.08,364.50 206.20,366.60" fill="#111"/>
<polygon points="312.60,364.50 304.60,366.60 305.72,364.50 304.60,362.40" fill="#111"/>
<text x="0" y="0" transform="translate(255.79999999999998,361.0) skewX(-5)" font-size="18.5" font-style="italic" text-anchor="middle" fill="#000" >800</text>
<line x1="312.60" y1="364.50" x2="413.20" y2="364.50" stroke="#2e2e2e" stroke-width="1.05" stroke-linecap="butt"/>
<polygon points="312.60,364.50 320.60,362.40 319.48,364.50 320.60,366.60" fill="#111"/>
<polygon points="413.20,364.50 405.20,366.60 406.32,364.50 405.20,362.40" fill="#111"/>
<text x="0" y="0" transform="translate(362.79999999999995,361.0) skewX(-5)" font-size="18.5" font-style="italic" text-anchor="middle" fill="#000" >700</text>
<line x1="130.70" y1="390.50" x2="206.40" y2="390.50" stroke="#2e2e2e" stroke-width="1.05" stroke-linecap="butt"/>
<polygon points="142.20,390.50 134.20,392.60 135.32,390.50 134.20,388.40" fill="#111"/>
<polygon points="195.60,390.50 203.60,388.40 202.48,390.50 203.60,392.60" fill="#111"/>
<text x="0" y="0" transform="translate(169.9,386.8) skewX(-5)" font-size="18.5" font-style="italic" text-anchor="middle" fill="#000" >369</text>
<line x1="184.00" y1="397.70" x2="252.50" y2="397.70" stroke="#8a8a8a" stroke-width="0.9" stroke-linecap="butt"/>
<polygon points="195.30,397.70 187.30,399.80 188.42,397.70 187.30,395.60" fill="#8a8a8a"/>
<polygon points="201.20,397.70 209.20,395.60 208.08,397.70 209.20,399.80" fill="#8a8a8a"/>
<line x1="201.20" y1="392.00" x2="201.20" y2="401.20" stroke="#8a8a8a" stroke-width="0.8" stroke-linecap="butt"/>
<text x="0" y="0" transform="translate(236.6,393.6) skewX(-5)" font-size="18.5" font-style="italic" text-anchor="middle" fill="#8a8a8a" >32</text>
<line x1="413.10" y1="402.70" x2="496.00" y2="402.70" stroke="#2e2e2e" stroke-width="1.05" stroke-linecap="butt"/>
<line x1="413.10" y1="547.30" x2="496.00" y2="547.30" stroke="#2e2e2e" stroke-width="1.05" stroke-linecap="butt"/>
<line x1="491.10" y1="402.70" x2="491.10" y2="547.30" stroke="#505050" stroke-width="1.0" stroke-linecap="butt"/>
<polygon points="491.10,402.70 493.20,410.70 491.10,409.58 489.00,410.70" fill="#111"/>
<polygon points="491.10,547.30 489.00,539.30 491.10,540.42 493.20,539.30" fill="#111"/>
<text x="0" y="0" font-size="16.9" font-style="italic" text-anchor="middle" fill="#000" transform="translate(485.7,473.8) rotate(-90) skewX(-5)">1064</text>
<line x1="317.40" y1="549.60" x2="337.80" y2="583.70" stroke="#000" stroke-width="0.9" stroke-linecap="butt"/>
<line x1="337.80" y1="583.70" x2="401.20" y2="583.70" stroke="#2e2e2e" stroke-width="0.9" stroke-linecap="butt"/>
<polygon points="317.20,549.30 322.04,553.96 320.12,554.07 319.14,555.73" fill="#000"/>
<ellipse cx="364.7" cy="573.7" rx="5.9" ry="5.6" stroke="#111" stroke-width="1.15" fill="none"/>
<line x1="361.40" y1="581.40" x2="367.70" y2="566.10" stroke="#111" stroke-width="1.1" stroke-linecap="butt"/>
<text x="0" y="0" transform="translate(377.0,579.6) skewX(-5)" font-size="18.5" font-style="italic" text-anchor="start" fill="#000" >10</text>
<line x1="310.20" y1="538.30" x2="312.00" y2="544.00" stroke="#000" stroke-width="0.7" stroke-linecap="butt"/>
</svg>
<div class="cap">Левое исполнение</div>
</body></html>
